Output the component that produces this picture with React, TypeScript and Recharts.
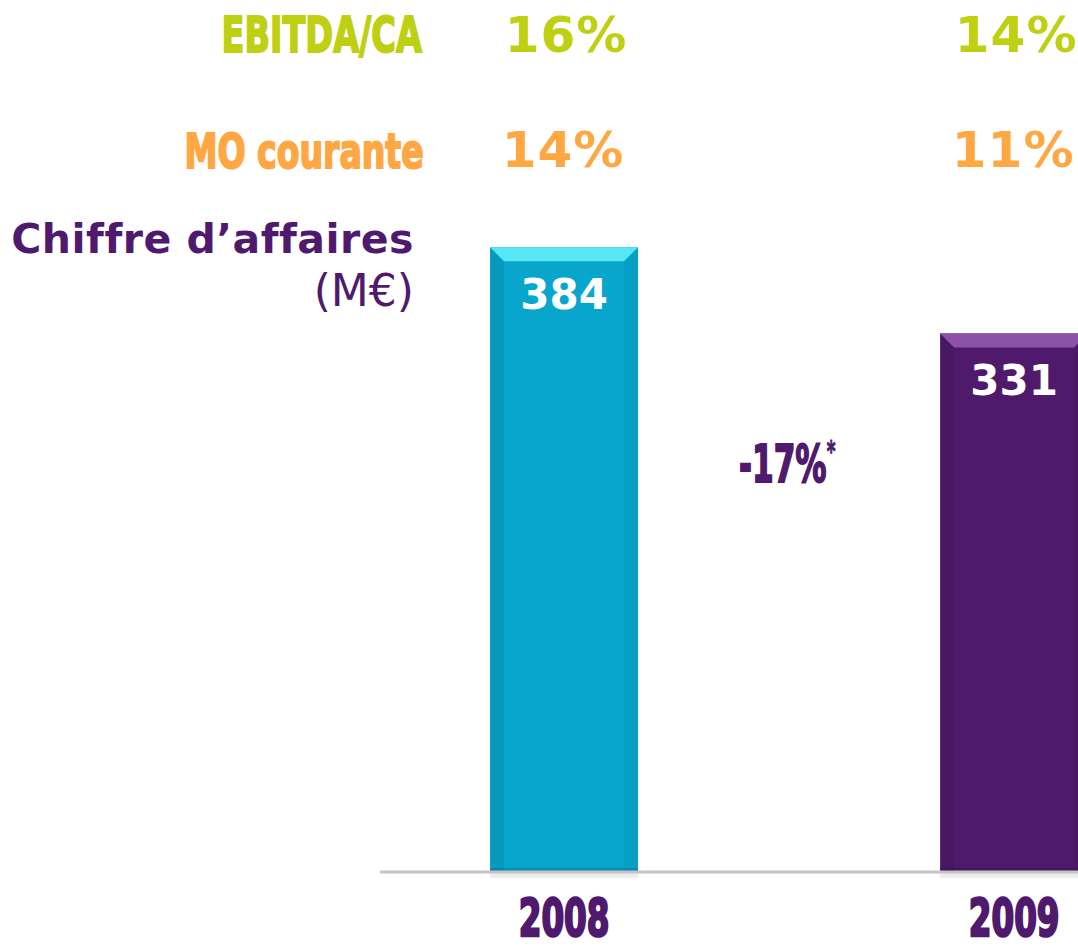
import { Bar, BarChart, Cell, LabelList, XAxis, YAxis } from 'recharts';

const years = [2008, 2009];
const revenue = [384, 331];
const ebitdaMargin = [16, 14];
const moMargin = [14, 11];
const barColors = ['#08a6cd', '#4f1a6b'];
const barHighlights = ['#56e6f4', '#8c52aa'];

const data = years.map((year, i) => ({ year, revenue: revenue[i] }));

const PURPLE = '#4f1a6e';
const GREEN = '#bfd013';
const ORANGE = '#ffa743';
const BOLD = '"DejaVu Sans", Verdana, sans-serif';
const X_DOMAIN = [2008 - 0.409, 2009 + 0.524];

function BevelBar(props: any) {
  const { x, y, width, height, index } = props;
  if (!width || !height) return null;
  const b = 14;
  const base = barColors[index];
  const hi = barHighlights[index];
  return (
    <g>
      <rect x={x} y={y + height} width={width} height={6} fill="#000" opacity={0.07} />
      <rect x={x} y={y} width={width} height={height} fill={base} />
      <polygon
        points={`${x},${y} ${x + b},${y + b} ${x + b},${y + height} ${x},${y + height}`}
        fill="#000"
        opacity={0.07}
      />
      <polygon
        points={`${x + width},${y} ${x + width - b},${y + b} ${x + width - b},${y + height} ${x + width},${y + height}`}
        fill="#000"
        opacity={0.04}
      />
      <polygon
        points={`${x},${y} ${x + width},${y} ${x + width - b},${y + b} ${x + b},${y + b}`}
        fill={hi}
      />
      <rect x={x} y={y + height - 4} width={width} height={4} fill="#000" opacity={0.12} />
    </g>
  );
}

function TopTick(props: any) {
  const { x, y, payload } = props;
  const i = years.indexOf(payload.value);
  if (i < 0) return null;
  return (
    <g>
      <text x={x + 2} y={y - 146} textAnchor="middle" fill={GREEN} fontFamily={BOLD} fontWeight="bold" fontSize={50} letterSpacing={1}>
        {ebitdaMargin[i]}%
      </text>
      <text x={x - 1} y={y - 31} textAnchor="middle" fill={ORANGE} fontFamily={BOLD} fontWeight="bold" fontSize={50} letterSpacing={1}>
        {moMargin[i]}%
      </text>
    </g>
  );
}

function YearTick(props: any) {
  const { x, y, payload } = props;
  return (
    <text
      transform={`translate(${x},${y + 62}) scale(0.68,1.06)`}
      textAnchor="middle"
      fill={PURPLE}
      stroke={PURPLE}
      strokeWidth={2.5}
      fontFamily={BOLD}
      fontWeight="bold"
      fontSize={48}
    >
      {payload.value}
    </text>
  );
}

const condensed = (color: string, size: number, scale: number): React.CSSProperties => ({
  position: 'absolute',
  color,
  fontFamily: BOLD,
  fontWeight: 'bold',
  fontSize: size,
  lineHeight: 1,
  whiteSpace: 'nowrap',
  transform: `scaleX(${scale})`,
  transformOrigin: 'right center',
  WebkitTextStroke: `2px ${color}`,
});

export default function App() {
  return (
    <div
      style={{
        position: 'absolute',
        left: 0,
        top: 0,
        width: 1078,
        height: 947,
        overflow: 'hidden',
        background: '#fff',
      }}
    >
      <div style={{ ...condensed(GREEN, 50, 0.67), right: 1078 - 422, top: 10 }}>EBITDA/CA</div>
      <div style={{ ...condensed(ORANGE, 48, 0.69), right: 1078 - 424, top: 127 }}>MO courante</div>
      <div
        style={{
          position: 'absolute',
          right: 1078 - 414,
          top: 219,
          color: PURPLE,
          fontFamily: BOLD,
          fontWeight: 'bold',
          fontSize: 41,
          letterSpacing: 0.5,
          fontVariantLigatures: 'none',
          lineHeight: 1,
          whiteSpace: 'nowrap',
        }}
      >
        Chiffre d’affaires
      </div>
      <div
        style={{
          position: 'absolute',
          right: 1078 - 414,
          top: 269,
          color: PURPLE,
          fontFamily: BOLD,
          fontSize: 44,
          lineHeight: 1,
          whiteSpace: 'nowrap',
        }}
      >
        (M€)
      </div>
      <div style={{ ...condensed(PURPLE, 52, 0.6), transformOrigin: 'left center', left: 739, top: 438 }}>
        -17%<span style={{ fontSize: 28, verticalAlign: 'top', WebkitTextStroke: '1px ' + PURPLE }}>*</span>
      </div>
      <div style={{ position: 'absolute', left: 0, top: 0 }}>
        <BarChart
          width={1250}
          height={947}
          data={data}
          margin={{ top: 0, right: 0, left: 380, bottom: 0 }}
        >
          <XAxis
            xAxisId="top"
            orientation="top"
            dataKey="year"
            type="number"
            domain={X_DOMAIN}
            ticks={years}
            height={200}
            axisLine={false}
            tickLine={false}
            tickSize={0}
            tick={<TopTick />}
          />
          <XAxis
            xAxisId="bottom"
            dataKey="year"
            type="number"
            domain={X_DOMAIN}
            ticks={years}
            height={75}
            axisLine={{ stroke: '#c4c4c4', strokeWidth: 3 }}
            tickLine={false}
            tickSize={0}
            tick={<YearTick />}
          />
          <YAxis hide domain={[0, 413]} />
          <Bar
            dataKey="revenue"
            xAxisId="bottom"
            barSize={148}
            shape={<BevelBar />}
            isAnimationActive={false}
          >
            {data.map((d, i) => (
              <Cell key={d.year} fill={barColors[i]} />
            ))}
            <LabelList
              dataKey="revenue"
              position="insideTop"
              offset={32}
              fill="#fff"
              fontFamily={BOLD}
              fontWeight="bold"
              fontSize={42}
            />
          </Bar>
        </BarChart>
      </div>
    </div>
  );
}
